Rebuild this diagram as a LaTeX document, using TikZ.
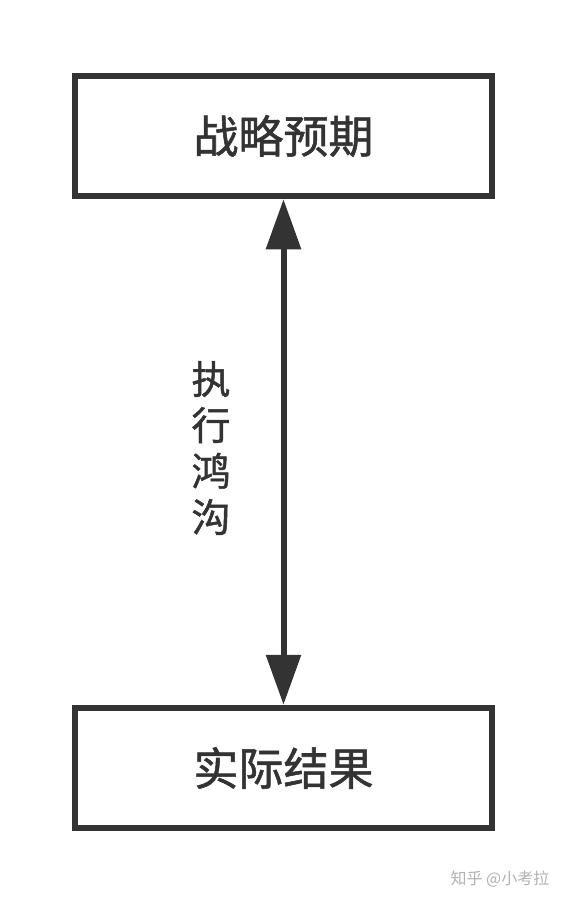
\documentclass[tikz,border=0pt]{standalone}
\usepackage{fontspec}
\newfontfamily\cjk[FakeBold=1.2]{Noto Sans CJK SC}
\newfontfamily\cjklight{Noto Sans CJK SC}
\usetikzlibrary{arrows.meta}
\definecolor{ink}{HTML}{333333}
\begin{document}
\begin{tikzpicture}[x=1pt,y=-1pt,
  boxnode/.style={draw=ink,line width=6pt,minimum width=417pt,minimum height=120.5pt,inner sep=0pt,font=\cjk\fontsize{45}{50}\selectfont,text=ink},
  gapline/.style={draw=ink,line width=6pt,{Triangle[width=34pt,length=50pt]}-{Triangle[width=34pt,length=50pt]}},
  gaplabel/.style={font=\cjk\fontsize{39}{46}\selectfont,text=ink,align=center,inner sep=0pt}]
\useasboundingbox (0,0) rectangle (567,903);
\fill[white] (0,0) rectangle (567,903);
\node[boxnode] (top) at (283.5,136) {战略预期};
\node[boxnode] (bottom) at (283.5,768) {实际结果};
\draw[gapline] (top.south) -- (bottom.north);
\node[gaplabel] (gap) at (211,448) {执\\行\\鸿\\沟};
\node[font=\cjklight\fontsize{16}{18}\selectfont,text=black!30,inner sep=0pt] (wm) at (500,879) {知乎 @小考拉};
\end{tikzpicture}
\end{document}
